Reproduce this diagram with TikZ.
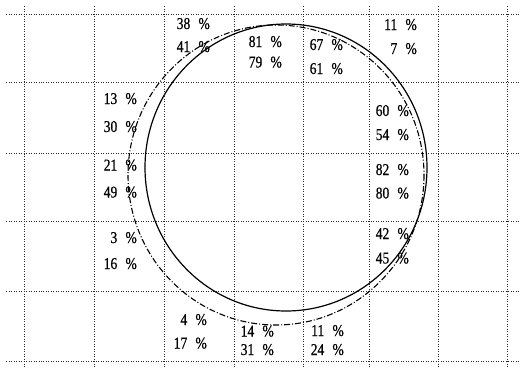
\documentclass[tikz,border=0pt]{standalone}
\usepackage{fontspec}
\newfontfamily\labfont[FakeStretch=0.82,FakeBold=0.6]{Liberation Serif}
\newcommand\pc[1]{#1\hspace{0.5em}\%}
\begin{document}
\begin{tikzpicture}[x=1pt,y=-1pt,
  gridline/.style={line width=0.9pt, dash pattern=on 0.8pt off 1.7pt, black!85},
  meas/.style={line width=1.2pt, black},
  pred/.style={line width=1.1pt, black, dash pattern=on 6pt off 2pt on 1pt off 2pt},
  lab/.style={anchor=base east, inner sep=0pt, font=\labfont\fontsize{16.5}{16.5}\selectfont}]
\useasboundingbox (0,0) rectangle (520,368);
\foreach \x in {24,94,164,234,303,369,438,507} \draw[gridline] (\x,6) -- (\x,368);
\foreach \y in {14,82,153,221,291,361} \draw[gridline] (6,\y) -- (520,\y);
\draw[meas] (286,167.5) ellipse [x radius=141, y radius=143.5];
\draw[pred] (276,175) ellipse [x radius=148, y radius=150];
% top row
\node[lab] (a1) at (210,29) {\pc{38}};
\node[lab] (a2) at (210,52) {\pc{41}};
\node[lab] (b1) at (282,47) {\pc{81}};
\node[lab] (b2) at (282,67.5) {\pc{79}};
\node[lab] (c1) at (343,50) {\pc{67}};
\node[lab] (c2) at (343,74) {\pc{61}};
\node[lab] (d1) at (417,30) {\pc{11}};
\node[lab] (d2) at (417,54) {\pc{7}};
% left column
\node[lab] (l1) at (137,104) {\pc{13}};
\node[lab] (l2) at (137,132) {\pc{30}};
\node[lab] (l3) at (137,170.5) {\pc{21}};
\node[lab] (l4) at (137,197.5) {\pc{49}};
\node[lab] (l5) at (137,243) {\pc{3}};
\node[lab] (l6) at (137,269) {\pc{16}};
% right column
\node[lab] (r1) at (409,116) {\pc{60}};
\node[lab] (r2) at (409,140) {\pc{54}};
\node[lab] (r3) at (409,175) {\pc{82}};
\node[lab] (r4) at (409,198.5) {\pc{80}};
\node[lab] (r5) at (409,239) {\pc{42}};
\node[lab] (r6) at (409,263.5) {\pc{45}};
% bottom row
\node[lab] (e1) at (207,325) {\pc{4}};
\node[lab] (e2) at (207,348.5) {\pc{17}};
\node[lab] (f1) at (274,336.5) {\pc{14}};
\node[lab] (f2) at (274,355) {\pc{31}};
\node[lab] (g1) at (344,336) {\pc{11}};
\node[lab] (g2) at (344,355) {\pc{24}};
\end{tikzpicture}
\end{document}
